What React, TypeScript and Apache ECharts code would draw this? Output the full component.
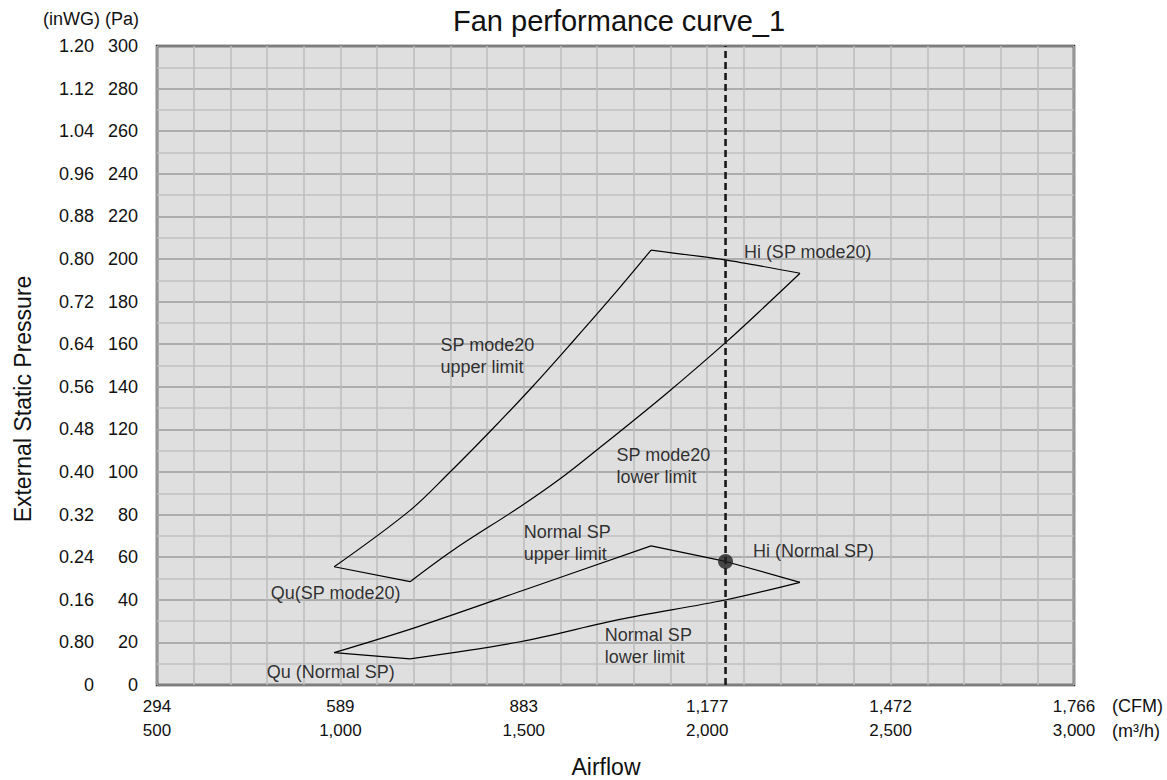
import React, { useEffect, useRef } from 'react';
import * as echarts from 'echarts';

const FONT = "'Liberation Sans', Arial, Helvetica, sans-serif";

// Axis ticks
const m3hTicks = [500, 1000, 1500, 2000, 2500, 3000];
const cfmTickLabels = ['294', '589', '883', '1,177', '1,472', '1,766'];
const m3hTickLabels = ['500', '1,000', '1,500', '2,000', '2,500', '3,000'];
const paTicks = [0, 20, 40, 60, 80, 100, 120, 140, 160, 180, 200, 220, 240, 260, 280, 300];
const inwgTickLabels = ['0', '0.80', '0.16', '0.24', '0.32', '0.40', '0.48', '0.56', '0.64', '0.72', '0.80', '0.88', '0.96', '1.04', '1.12', '1.20'];

// SP mode20 region  [airflow m3/h, pressure Pa]
const spMode20Qu = [[983, 55.5], [1190, 48.5]];
const spMode20Upper = [[983, 55.5], [1190, 82.0], [1299, 100.0], [1408, 119.0], [1526, 140.5], [1635, 161.5], [1744, 183.0], [1847, 204.2]];
const spMode20Hi = [[1847, 204.2], [2053, 199.5], [2253, 193.3]];
const spMode20Lower = [[1190, 48.5], [1308, 63.4], [1490, 83.7], [1599, 96.8], [1699, 110.3], [1890, 137.0], [2053, 161.2], [2162, 178.5], [2253, 193.3]];

// Normal SP region
const normalQu = [[983, 15.2], [1190, 12.3]];
const normalUpper = [[983, 15.2], [1208, 27.2], [1499, 44.5], [1847, 65.3]];
const normalHi = [[1847, 65.3], [2050, 58.0], [2253, 48.2]];
const normalLower = [[1190, 12.3], [1490, 20.3], [1762, 30.8], [2049, 39.9], [2253, 48.2]];

// Operating point
const ratedAirflow = 2050;
const hiNormalPoint = [[2050, 58.0]];

// Annotations [airflow, pressure, text]
const annotations: [number, number, string][] = [
  [2100, 203.3, 'Hi (SP mode20)'],
  [1273, 154.6, 'SP mode20\nupper limit'],
  [1753, 102.9, 'SP mode20\nlower limit'],
  [1500, 66.8, 'Normal SP\nupper limit'],
  [2125, 63.0, 'Hi (Normal SP)'],
  [810, 43.0, 'Qu(SP mode20)'],
  [1721, 18.3, 'Normal SP\nlower limit'],
  [799, 6.0, 'Qu (Normal SP)'],
];

export default function App() {
  const ref = useRef<HTMLDivElement>(null);

  useEffect(() => {
    if (!ref.current) return;
    const chart = echarts.init(ref.current, undefined, { renderer: 'svg' });

    const lineSeries = (name: string, data: number[][], smooth: number | boolean) => ({
      name,
      type: 'line',
      data,
      symbol: 'none',
      smooth,
      silent: true,
      lineStyle: { color: '#000', width: 1.2 },
      z: 3,
    });

    chart.setOption({
      animation: false,
      backgroundColor: '#ffffff',
      textStyle: { fontFamily: FONT },
      grid: {
        left: 157,
        right: 93,
        top: 46,
        bottom: 95,
        show: true,
        backgroundColor: '#dfdfdf',
        borderColor: '#222',
        borderWidth: 2.5,
        containLabel: false,
      },
      xAxis: {
        type: 'value',
        min: 500,
        max: 3000,
        interval: 100,
        axisLine: { show: false },
        axisTick: { show: false },
        splitLine: { show: true, lineStyle: { color: '#bdbdbd', width: 1.5 } },
        axisLabel: {
          show: true,
          margin: 9,
          fontSize: 17,
          lineHeight: 24,
          color: '#111',
          fontFamily: FONT,
          showMinLabel: true,
          showMaxLabel: true,
          formatter: (v: number) => {
            const i = m3hTicks.indexOf(v);
            return i >= 0 ? `${cfmTickLabels[i]}\n${m3hTickLabels[i]}` : '';
          },
        },
      },
      yAxis: [
        {
          type: 'value',
          min: 0,
          max: 300,
          interval: 10,
          position: 'left',
          axisLine: { show: false },
          axisTick: { show: false },
          splitLine: { show: true, lineStyle: { color: ['#9c9c9c', '#c0c0c0'], width: 1.5 } },
          axisLabel: {
            margin: 19,
            fontSize: 18,
            color: '#111',
            fontFamily: FONT,
            formatter: (v: number) => (paTicks.indexOf(v) >= 0 ? String(v) : ''),
          },
        },
        {
          type: 'value',
          min: 0,
          max: 300,
          interval: 10,
          position: 'left',
          axisLine: { show: false },
          axisTick: { show: false },
          splitLine: { show: false },
          axisLabel: {
            margin: 63,
            fontSize: 18,
            color: '#111',
            fontFamily: FONT,
            formatter: (v: number) => {
              const i = paTicks.indexOf(v);
              return i >= 0 ? inwgTickLabels[i] : '';
            },
          },
        },
      ],
      graphic: [
        { type: 'text', x: 619, y: 21, style: { text: 'Fan performance curve_1', fontSize: 29, fontFamily: FONT, fill: '#111', align: 'center', verticalAlign: 'middle' } },
        { type: 'text', x: 43, y: 19, style: { text: '(inWG)', fontSize: 18, fontFamily: FONT, fill: '#111', align: 'left', verticalAlign: 'middle' } },
        { type: 'text', x: 105, y: 19, style: { text: '(Pa)', fontSize: 18, fontFamily: FONT, fill: '#111', align: 'left', verticalAlign: 'middle' } },
        { type: 'text', x: 1112, y: 706, style: { text: '(CFM)', fontSize: 18, fontFamily: FONT, fill: '#111', align: 'left', verticalAlign: 'middle' } },
        { type: 'text', x: 1112, y: 731, style: { text: '(m³/h)', fontSize: 18, fontFamily: FONT, fill: '#111', align: 'left', verticalAlign: 'middle' } },
        { type: 'text', x: 606, y: 767, style: { text: 'Airflow', fontSize: 23, fontFamily: FONT, fill: '#111', align: 'center', verticalAlign: 'middle' } },
        { type: 'text', x: 23, y: 399, rotation: Math.PI / 2, style: { text: 'External Static Pressure', fontSize: 23, fontFamily: FONT, fill: '#111', align: 'center', verticalAlign: 'middle' } },
      ],
      series: [
        lineSeries('SP mode20 upper limit', spMode20Upper, 0.35),
        lineSeries('SP mode20 lower limit', spMode20Lower, 0.35),
        lineSeries('Hi (SP mode20)', spMode20Hi, 0.2),
        lineSeries('Qu (SP mode20)', spMode20Qu, false),
        lineSeries('Normal SP upper limit', normalUpper, 0.3),
        lineSeries('Normal SP lower limit', normalLower, 0.3),
        lineSeries('Hi (Normal SP)', normalHi, false),
        lineSeries('Qu (Normal SP)', normalQu, false),
        {
          name: 'Rated airflow',
          type: 'line',
          data: [[ratedAirflow, 0], [ratedAirflow, 300]],
          symbol: 'none',
          silent: true,
          lineStyle: { color: '#1a1a1a', width: 2.6, type: [7, 4] },
          z: 4,
        },
        {
          name: 'Hi point',
          type: 'scatter',
          data: hiNormalPoint,
          symbol: 'circle',
          symbolSize: 15,
          itemStyle: { color: '#1f1f1f' },
          silent: true,
          z: 5,
        },
        {
          name: 'labels',
          type: 'scatter',
          symbolSize: 0,
          silent: true,
          data: annotations.map((a) => ({ value: [a[0], a[1]], name: a[2] })),
          label: {
            show: true,
            position: 'right',
            distance: 0,
            formatter: (p: any) => p.name,
            fontSize: 18,
            lineHeight: 22,
            color: '#000',
            fontFamily: FONT,
            align: 'left',
          },
          z: 6,
        },
      ],
    });

    return () => chart.dispose();
  }, []);

  return <div ref={ref} style={{ position: 'absolute', left: 0, top: 0, width: 1167, height: 780 }} />;
}
